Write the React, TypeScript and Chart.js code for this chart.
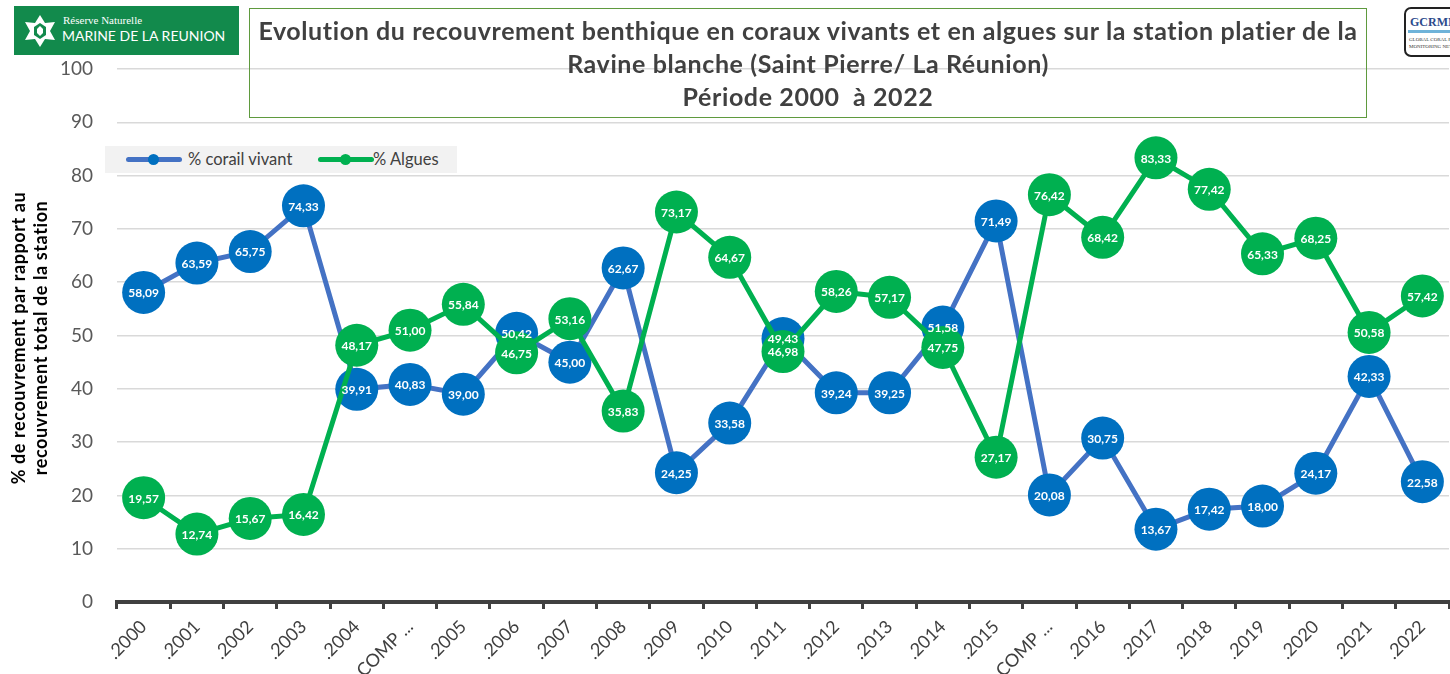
import React, { useEffect, useRef } from 'react';
import { Chart, registerables } from 'chart.js';

Chart.register(...registerables);

const categories = ['.2000', '.2001', '.2002', '.2003', '.2004', 'COMP ...', '.2005', '.2006', '.2007', '.2008', '.2009', '.2010', '.2011', '.2012', '.2013', '.2014', '.2015', 'COMP ...', '.2016', '.2017', '.2018', '.2019', '.2020', '.2021', '.2022'];
const coralValues = [58.09, 63.59, 65.75, 74.33, 39.91, 40.83, 39.0, 50.42, 45.0, 62.67, 24.25, 33.58, 49.43, 39.24, 39.25, 51.58, 71.49, 20.08, 30.75, 13.67, 17.42, 18.0, 24.17, 42.33, 22.58];
const algaeValues = [19.57, 12.74, 15.67, 16.42, 48.17, 51.0, 55.84, 46.75, 53.16, 35.83, 73.17, 64.67, 46.98, 58.26, 57.17, 47.75, 27.17, 76.42, 68.42, 83.33, 77.42, 65.33, 68.25, 50.58, 57.42];
const seriesNames = ['% corail vivant', '% Algues'];
const titleLines = [
  'Evolution du recouvrement benthique en coraux vivants et en algues sur la station platier de la',
  'Ravine blanche (Saint Pierre/ La Réunion)',
  'Période 2000  à 2022',
];
const yTitleLines = ['% de recouvrement par rapport au', 'recouvrement total de la station'];
const yMin = 0;
const yMax = 100;
const yStep = 10;

const FONT = 'Lato, "Open Sans", sans-serif';
const CORAL_LINE = '#4472C4';
const CORAL_MARK = '#0070C0';
const ALGAE = '#00B050';

const labelPlugin = {
  id: 'pointLabels',
  afterDatasetsDraw(chart: any) {
    const ctx = chart.ctx;
    ctx.save();
    ctx.font = `bold 12px ${FONT}`;
    ctx.fillStyle = '#ffffff';
    ctx.textAlign = 'center';
    ctx.textBaseline = 'middle';
    chart.data.datasets.forEach((ds: any, i: number) => {
      const meta = chart.getDatasetMeta(i);
      meta.data.forEach((pt: any, j: number) => {
        const v = ds.data[j] as number;
        ctx.fillText(v.toFixed(2).replace('.', ','), pt.x, pt.y + 1);
      });
    });
    ctx.restore();
  },
};

export default function App() {
  const ref = useRef<HTMLCanvasElement | null>(null);

  useEffect(() => {
    if (!ref.current) return;
    const chart = new Chart(ref.current, {
      type: 'line',
      data: {
        labels: categories,
        datasets: [
          {
            label: seriesNames[0],
            data: coralValues,
            borderColor: CORAL_LINE,
            backgroundColor: CORAL_MARK,
            borderWidth: 5,
            pointRadius: 21.5,
            pointBackgroundColor: CORAL_MARK,
            pointBorderColor: CORAL_MARK,
            pointBorderWidth: 0,
            tension: 0,
            clip: false,
            order: 1,
          },
          {
            label: seriesNames[1],
            data: algaeValues,
            borderColor: ALGAE,
            backgroundColor: ALGAE,
            borderWidth: 5,
            pointRadius: 21.5,
            pointBackgroundColor: ALGAE,
            pointBorderColor: ALGAE,
            pointBorderWidth: 0,
            tension: 0,
            clip: false,
            order: 0,
          },
        ],
      },
      options: {
        responsive: false,
        animation: false,
        devicePixelRatio: 1,
        layout: { autoPadding: false, padding: { top: 69, right: 1, left: 0, bottom: 0 } },
        plugins: {
          legend: { display: false },
          title: { display: false },
          tooltip: { enabled: false },
        },
        scales: {
          x: {
            type: 'category',
            offset: true,
            afterFit: (s: any) => {
              s.height = 72;
              s.paddingLeft = 0;
              s.paddingRight = 0;
            },
            grid: {
              offset: true,
              drawOnChartArea: false,
              drawTicks: true,
              tickLength: 7,
              tickWidth: 3,
              tickColor: '#404040',
            },
            border: { display: true, color: '#404040', width: 4 },
            ticks: {
              autoSkip: false,
              maxRotation: 45,
              minRotation: 45,
              padding: 7,
              color: '#404040',
              font: { family: FONT, size: 18 },
            },
          },
          y: {
            min: yMin,
            max: yMax,
            afterFit: (s: any) => {
              s.width = 117;
              s.paddingTop = 0;
              s.paddingBottom = 0;
            },
            grid: { color: '#d9d9d9', lineWidth: 1.5, drawTicks: false },
            border: { display: false },
            ticks: {
              stepSize: yStep,
              padding: 24,
              color: '#595959',
              font: { family: FONT, size: 19 },
            },
          },
        },
      },
      plugins: [labelPlugin],
    } as any);
    return () => chart.destroy();
  }, []);

  return (
    <div style={{ position: 'absolute', left: 0, top: 0, width: 1450, height: 674, overflow: 'hidden', background: '#fff', fontFamily: FONT }}>
      <canvas ref={ref} width={1450} height={674} style={{ position: 'absolute', left: 0, top: 0, width: 1450, height: 674 }} />
      {/* Left logo */}
      <div style={{ position: 'absolute', left: 14, top: 6, width: 225, height: 49, background: '#128a4c' }}>
        <svg width="36" height="34" viewBox="0 0 36 34" style={{ position: 'absolute', left: 8, top: 8 }}>
          <polygon points="18,1 23,9 33,8 28,17 33,26 23,25 18,33 13,25 3,26 8,17 3,8 13,9" fill="#ffffff" />
          <polygon points="18,9 24,13 24,21 18,25 12,21 12,13" fill="#128a4c" />
          <polygon points="18,12 21,15 21,19 18,22 15,19 15,15" fill="#ffffff" />
        </svg>
        <div style={{ position: 'absolute', left: 49, top: 9, color: '#fff', fontFamily: '"Liberation Serif", serif', fontSize: 11, lineHeight: '11px', whiteSpace: 'nowrap' }}>Réserve Naturelle</div>
        <div style={{ position: 'absolute', left: 48, top: 22, color: '#fff', fontFamily: FONT, fontSize: 14, lineHeight: '16px', whiteSpace: 'nowrap' }}>MARINE DE LA REUNION</div>
      </div>
      {/* Right logo */}
      <div style={{ position: 'absolute', left: 1404, top: 7, width: 70, height: 46, border: '2px solid #222', borderRadius: 7, background: '#fff', overflow: 'hidden' }}>
        <div style={{ position: 'absolute', left: 4, top: 6, color: '#2b4a8c', fontFamily: '"Liberation Serif", serif', fontWeight: 'bold', fontSize: 12 }}>GCRMN</div>
        <div style={{ position: 'absolute', left: 2, top: 21, width: 66, height: 3, background: '#6fb3d9' }} />
        <div style={{ position: 'absolute', left: 3, top: 27, color: '#333', fontFamily: '"Liberation Serif", serif', fontSize: 5, lineHeight: '7px' }}>GLOBAL CORAL REEF<br />MONITORING NETWORK</div>
      </div>
      {/* Title box */}
      <div style={{ position: 'absolute', left: 249, top: 8, width: 1116, height: 108, border: '1.5px solid #5f9a3e', boxSizing: 'content-box' }}>
        <div style={{ position: 'absolute', left: 0, top: 5, width: '100%', textAlign: 'center', color: '#404040', fontWeight: 'bold', fontSize: 25, letterSpacing: 0.6, lineHeight: '33px', fontFamily: FONT }}>
          {titleLines.map((t, i) => (
            <div key={i} style={{ whiteSpace: 'pre' }}>{t}</div>
          ))}
        </div>
      </div>
      {/* Legend */}
      <div style={{ position: 'absolute', left: 105, top: 146, width: 352, height: 27, background: '#f2f2f2' }}>
        {[{ c: CORAL_LINE, m: CORAL_MARK, x: 21, tx: 83 }, { c: ALGAE, m: ALGAE, x: 213, tx: 268 }].map((it, i) => (
          <React.Fragment key={i}>
            <div style={{ position: 'absolute', left: it.x, top: 11, width: 56, height: 5, borderRadius: 3, background: it.c }} />
            <div style={{ position: 'absolute', left: it.x + 22, top: 8, width: 11, height: 11, borderRadius: 6, background: it.m }} />
            <div style={{ position: 'absolute', left: it.tx, top: 3, color: '#404040', fontSize: 16.5, lineHeight: '20px', whiteSpace: 'nowrap' }}>{seriesNames[i]}</div>
          </React.Fragment>
        ))}
      </div>
      {/* Y axis title */}
      <div style={{ position: 'absolute', left: 29 - 180, top: 338 - 22, width: 360, height: 44, transform: 'rotate(-90deg)', transformOrigin: '180px 22px', textAlign: 'center', color: '#000', fontWeight: 'bold', fontSize: 18, letterSpacing: 0.6, lineHeight: '22px', fontFamily: FONT }}>
        {yTitleLines.map((t, i) => (
          <div key={i} style={{ whiteSpace: 'nowrap' }}>{t}</div>
        ))}
      </div>
    </div>
  );
}
